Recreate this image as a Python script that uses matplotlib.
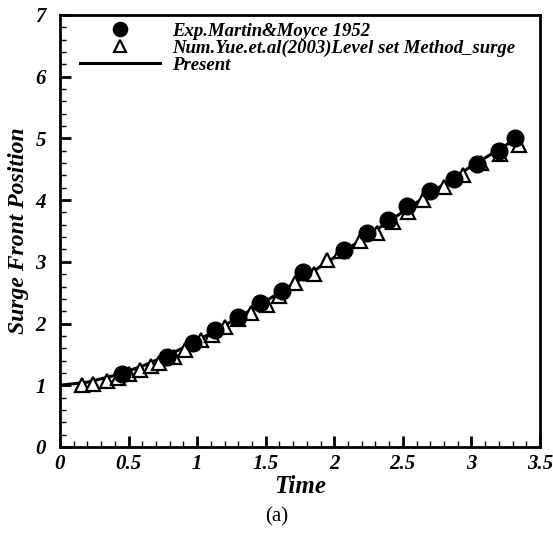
import matplotlib
matplotlib.use("Agg")
import matplotlib.pyplot as plt
from matplotlib.ticker import MultipleLocator

exp_t = [0.45, 0.78, 0.97, 1.13, 1.30, 1.46, 1.62, 1.77, 2.07, 2.24, 2.39, 2.53, 2.70, 2.87, 3.04, 3.20, 3.32]
exp_z = [1.19, 1.45, 1.69, 1.90, 2.11, 2.33, 2.53, 2.84, 3.19, 3.46, 3.68, 3.91, 4.15, 4.35, 4.59, 4.79, 5.00]

num_t = [0.16, 0.24, 0.34, 0.42, 0.50, 0.58, 0.66, 0.72, 0.83, 0.91, 1.03, 1.11, 1.20, 1.30, 1.39, 1.51,
         1.60, 1.71, 1.85, 1.95, 2.05, 2.19, 2.31, 2.43, 2.54, 2.65, 2.80, 2.94, 3.07, 3.21, 3.35]
num_z = [1.00, 1.02, 1.07, 1.12, 1.18, 1.25, 1.31, 1.36, 1.46, 1.57, 1.73, 1.82, 1.95, 2.08, 2.17, 2.30,
         2.45, 2.65, 2.81, 3.03, 3.17, 3.33, 3.46, 3.65, 3.81, 4.00, 4.22, 4.41, 4.60, 4.75, 4.89]

pre_t = [0, 0.2, 0.4, 0.6, 0.8, 1.0, 1.2, 1.4, 1.6, 1.8, 2.0, 2.2, 2.4, 2.6, 2.8, 3.0, 3.2, 3.33]
pre_z = [1.0, 1.05, 1.16, 1.31, 1.50, 1.72, 1.97, 2.23, 2.50, 2.78, 3.07, 3.36, 3.66, 3.96, 4.26, 4.55, 4.82, 5.0]

labels = ["Exp.Martin&Moyce 1952", "Num.Yue.et.al(2003)Level set Method_surge", "Present"]

SERIF = ["Liberation Serif", "DejaVu Serif"]
fig = plt.figure(figsize=(5.53, 5.33), dpi=100)
ax = fig.add_axes([0.1085, 0.1614, 0.868, 0.8105])

ln, = ax.plot(pre_t, pre_z, color="black", lw=2.2, zorder=2)
tr, = ax.plot(num_t, num_z, linestyle="none", marker="^", markersize=10, markerfacecolor="white",
              markeredgecolor="black", markeredgewidth=1.6, zorder=3)
ci, = ax.plot(exp_t, exp_z, linestyle="none", marker="o", markersize=12, color="black", zorder=4)

ax.set_xlim(0, 3.5)
ax.set_ylim(0, 7)
ax.xaxis.set_major_locator(MultipleLocator(0.5))
ax.xaxis.set_minor_locator(MultipleLocator(0.1))
ax.yaxis.set_major_locator(MultipleLocator(1))
ax.yaxis.set_minor_locator(MultipleLocator(0.2))
ax.set_xticks([0, 0.5, 1, 1.5, 2, 2.5, 3, 3.5])
ax.set_xticklabels(["0", "0.5", "1", "1.5", "2", "2.5", "3", "3.5"])
ax.tick_params(which="both", direction="in", top=False, right=False)
ax.tick_params(which="major", length=8, width=2)
ax.tick_params(which="minor", length=4, width=1)
ax.tick_params(axis="x", pad=5)
ax.tick_params(axis="y", pad=10)
for s in ax.spines.values():
    s.set_linewidth(2)
for lab in ax.get_xticklabels() + ax.get_yticklabels():
    lab.set_fontfamily(SERIF)
    lab.set_fontstyle("italic")
    lab.set_fontweight("bold")
    lab.set_fontsize(15)

ax.set_xlabel("Time", fontfamily=SERIF, fontstyle="italic", fontweight="bold", fontsize=18, labelpad=1)
ax.set_ylabel("Surge Front Position", fontfamily=SERIF, fontstyle="italic", fontweight="bold", fontsize=17, labelpad=5)

leg = ax.legend([ci, tr, ln], labels, loc="upper left", bbox_to_anchor=(0.025, 1.0), frameon=False,
                handlelength=4.3, labelspacing=0.0, handletextpad=0.64, borderaxespad=0, markerscale=0.85,
                prop={"family": SERIF, "style": "italic", "weight": "bold", "size": 13.5})

fig.text(0.5, 0.03, "(a)", ha="center", va="center", fontfamily=SERIF, fontsize=15)

fig.savefig("out.png", dpi=100)
